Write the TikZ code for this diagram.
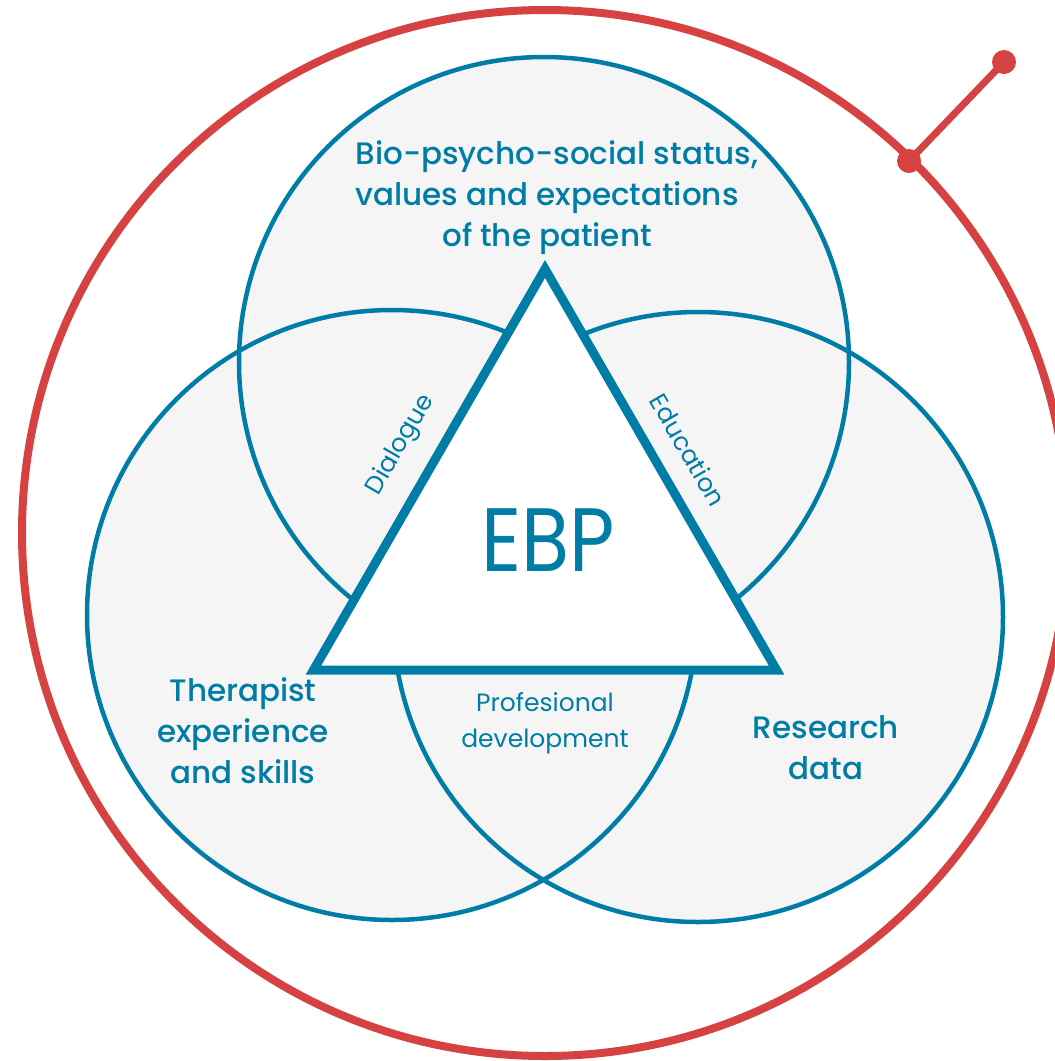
\documentclass[tikz,border=0pt]{standalone}
\usepackage{fontspec}
\setmainfont{Poppins}
\newfontfamily\medfont{Poppins Medium}
\newfontfamily\ebpfont{Poppins}[FakeStretch=0.87]
\usepackage{xcolor}
\definecolor{ebpblue}{HTML}{007DA6}
\definecolor{ebpred}{HTML}{D64242}
\definecolor{ebpgray}{HTML}{F5F5F5}

\tikzset{
  area/.style={fill=ebpgray},
  ring/.style={draw=ebpblue,line width=4.5pt},
  factor/.style={text=ebpblue,align=center,inner sep=0pt,font=\medfont\fontsize{31}{41}\selectfont},
  link/.style={text=ebpblue,align=center,inner sep=0pt,font=\fontsize{25}{36}\selectfont}
}

\begin{document}
\begin{tikzpicture}[x=1pt,y=-1pt]
            \useasboundingbox (0,0) rectangle (1055,1061);
            \clip (0,0) rectangle (1055,1061);

            % outer ring with handle
            \draw[ebpred,line width=8pt] (545,533) circle (523pt);
            \coordinate (rim) at (909,161);
            \coordinate (tip) at (1004,62);
            \draw[ebpred,line width=7pt] (rim) -- (tip);
            \fill[ebpred] (rim) circle (12pt) (tip) circle (12pt);

            % three circles
            \coordinate (patient) at (544,362);
            \coordinate (therapist) at (392,615);
            \coordinate (research) at (698,617);
            \fill[area] (patient) circle (305pt) (therapist) circle (305pt) (research) circle (305pt);
            \draw[ring] (patient) circle (305pt) (therapist) circle (305pt) (research) circle (305pt);

            % triangle
            \coordinate (apex) at (545,269);
            \coordinate (right) at (776.5,670);
            \coordinate (left) at (313.5,670);
            \draw[ebpblue,fill=white,line width=9pt,line join=miter] (apex) -- (right) -- (left) -- cycle;

            \node[factor] (patienttext) at (547,198) {\hspace*{20pt}Bio-psycho-social status,\\values and expectations\\of the patient};
            \node[factor] (therapisttext) at (243,731) {Therapist\\experience\\and skills};
            \node[factor] (researchtext) at (826,748) {Research\\data};
            \node[text=ebpblue,inner sep=0pt,font=\ebpfont\fontsize{90}{90}\selectfont] (ebp) at (548,540) {EBP};

            \node[link,rotate=60] (dialogue) at (401,445) {Dialogue};
            \node[link,rotate=-60] (education) at (688,450) {Education};
            \node[link] (development) at (545,723) {Profesional\\development};
\end{tikzpicture}
\end{document}
